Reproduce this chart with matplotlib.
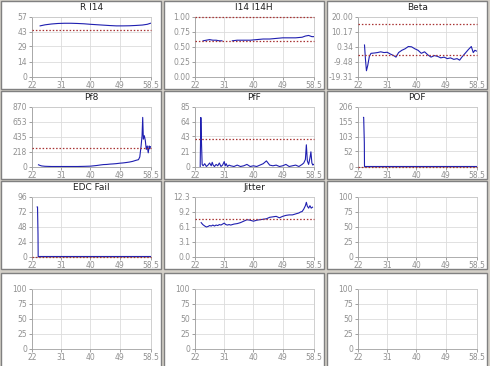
import numpy as np
import matplotlib
matplotlib.use("Agg")
import matplotlib.pyplot as plt
from matplotlib.patches import Rectangle

# ---------------- data ----------------
x_ticks = [22, 31, 40, 49, 58.5]
x_ticklabels = ["22", "31", "40", "49", "58.5"]

titles = ["R I14", "I14 I14H", "Beta", "Pf8", "PfF", "POF", "EDC Fail", "Jitter", "", "", "", ""]

yticks_ri14 = [0, 14, 29, 43, 57]
ri14_x = [24.5, 26, 28, 30, 32, 34, 36, 38, 40, 42, 44, 46, 48, 50, 52, 54, 56, 57.5, 58.5]
ri14_y = [48.5, 49.5, 50.3, 50.8, 51.0, 51.0, 50.8, 50.5, 50.0, 49.6, 49.2, 48.8, 48.5, 48.5, 48.6, 48.9, 49.3, 50.0, 51.0]
ri14_limits = [45]

yticks_i14 = [0.00, 0.25, 0.50, 0.75, 1.00]
i14_x = [24.5, 25.5, 26.5, 27.5, 28.5, 29.5, 30.3, np.nan, 33.5, 35, 37, 39, 41, 43, 45, 47, 49, 51, 53, 55, 56, 57, 58, 58.5]
i14_y = [0.60, 0.61, 0.62, 0.61, 0.61, 0.60, 0.60, np.nan, 0.60, 0.61, 0.61, 0.61, 0.62, 0.63, 0.63, 0.64, 0.65, 0.65, 0.65, 0.66, 0.68, 0.69, 0.67, 0.67]
i14_limits = [1.0, 0.6]

yticks_beta = [-19.31, -9.48, 0.34, 10.17, 20.00]
beta_x = [24.0, 24.3, 24.6, 25.0, 25.5, 26.0, 27, 28, 29, 30, 31, 32, 33, 33.7, 34.5, 35.5, 36.5, 37.5, 38.5, 39.5,
          40.5, 41.5, 42.5, 43.5, 44.5, 45.5, 46.5, 47.5, 48.5, 49.5, 50.5, 51.5, 52.5, 53.3, 54, 55, 56, 56.9, 57.5, 58, 58.5]
beta_y = [1.5, -8, -15.5, -12, -6, -4, -3.8, -3.5, -3.0, -3.5, -3.3, -4.5, -5.5, -6.5, -3.5, -2, -1, 0.5, 0.3, -1,
          -2, -4, -3, -5, -6.5, -5.5, -6, -7, -6.5, -7.5, -7, -8, -7.5, -8.5, -6.5, -4, -1.5, 0.5, -3.5, -2.0, -2.5]
beta_limits = [15.3, -5.2]

yticks_pf8 = [0, 218, 435, 653, 870]
pf8_x = [24.0, 24.5, 25, 26, 28, 30, 32, 34, 36, 38, 40, 41, 42, 43, 44, 45, 46, 47, 48, 49, 50, 51, 52, 53, 54,
         54.8, 55.2, 55.6, 55.9, 56.1, 56.3, 56.6, 56.9, 57.2, 57.5, 57.8, 58.1, 58.3, 58.5]
pf8_y = [25, 15, 8, 3, 0, 0, 0, 0, 0, 2, 5, 10, 15, 22, 28, 30, 35, 38, 42, 48, 52, 58, 65, 75, 90,
         100, 140, 300, 450, 718, 400, 450, 380, 250, 300, 200, 300, 260, 290]
pf8_limits = [266]

yticks_pff = [0, 21, 43, 64, 85]
pff_x = [23.6, 23.8, 24.0, 24.2, 24.5, 25, 25.5, 26, 26.5, 27, 27.3, 27.6, 28, 28.5, 29, 29.5, 30, 30.5, 31, 31.3,
         31.6, 32, 32.5, 33, 34, 35, 36, 37, 38, 39, 40, 41, 42, 43, 43.5, 44, 44.5, 45, 46, 47, 48, 49, 50, 51,
         52, 53, 54, 55, 55.5, 56, 56.3, 56.6, 57, 57.4, 57.7, 58, 58.3, 58.5]
pff_y = [0, 70, 34, 3, 1, 4, 0, 2, 5, 1, 6, 2, 0, 3, 1, 5, 0, 2, 7, 1,
         4, 0, 2, 1, 0, 2, 0, 1, 3, 0, 1, 0, 2, 4, 6, 8, 5, 2, 1, 2, 0, 1, 3, 0,
         1, 2, 0, 3, 5, 10, 31, 8, 3, 12, 21, 5, 2, 3]
pff_limits = [39]

yticks_pof = [0, 52, 103, 155, 206]
pof_x = [23.7, 23.75, 23.95, 24.0, 58.5]
pof_y = [170, 170, 82, 0, 0]
pof_limits = [0]

yticks_edc = [0, 24, 48, 72, 96]
edc_x = [23.6, 23.7, 23.85, 23.9, 58.5]
edc_y = [80, 80, 36, 0, 0]
edc_limits = [0]

yticks_jit = [0.0, 3.1, 6.1, 9.2, 12.3]
jit_ticklabels = ["0.0", "3.1", "6.1", "9.2", "12.3"]
jit_x = [23.9, 24.4, 25.0, 25.5, 26, 26.5, 27, 27.5, 28, 28.5, 29, 29.5, 30, 30.5, 31, 31.5, 32, 32.5, 33, 34,
         35, 36, 37, 38, 39, 40, 41, 42, 43, 44, 45, 46, 47, 48, 49, 50, 51, 52, 53, 54,
         54.5, 55, 55.5, 56, 56.3, 56.6, 57, 57.4, 57.8, 58.2]
jit_y = [7.0, 6.6, 6.3, 6.1, 6.2, 6.4, 6.3, 6.5, 6.3, 6.5, 6.4, 6.6, 6.5, 6.7, 6.9, 6.6, 6.5, 6.6, 6.5, 6.7,
         6.8, 7.0, 7.3, 7.6, 7.5, 7.3, 7.5, 7.6, 7.7, 7.8, 8.1, 8.2, 8.3, 8.0, 8.3, 8.5, 8.6, 8.6, 8.8, 9.0,
         9.2, 9.3, 9.8, 10.5, 11.2, 10.4, 10.0, 10.5, 10.0, 10.2]
jit_limits = [7.8]

yticks_empty = [0, 25, 50, 75, 100]

panels = [
    (ri14_x, ri14_y, ri14_limits, yticks_ri14, ["0", "14", "29", "43", "57"]),
    (i14_x, i14_y, i14_limits, yticks_i14, ["0.00", "0.25", "0.50", "0.75", "1.00"]),
    (beta_x, beta_y, beta_limits, yticks_beta, ["-19.31", "-9.48", "0.34", "10.17", "20.00"]),
    (pf8_x, pf8_y, pf8_limits, yticks_pf8, ["0", "218", "435", "653", "870"]),
    (pff_x, pff_y, pff_limits, yticks_pff, ["0", "21", "43", "64", "85"]),
    (pof_x, pof_y, pof_limits, yticks_pof, ["0", "52", "103", "155", "206"]),
    (edc_x, edc_y, edc_limits, yticks_edc, ["0", "24", "48", "72", "96"]),
    (jit_x, jit_y, jit_limits, yticks_jit, jit_ticklabels),
    (None, None, [], yticks_empty, ["0", "25", "50", "75", "100"]),
    (None, None, [], yticks_empty, ["0", "25", "50", "75", "100"]),
    (None, None, [], yticks_empty, ["0", "25", "50", "75", "100"]),
    (None, None, [], yticks_empty, ["0", "25", "50", "75", "100"]),
]

# ---------------- layout ----------------
W, H = 490, 366
fig = plt.figure(figsize=(W / 100, H / 100), dpi=100)
fig.patch.set_facecolor("#d4d0c8")

col_left = [0, 163, 326]
row_top = [0, 90, 180, 272]
panel_w = 160
panel_h = [88, 88, 88, 94]

def fx(px):
    return px / W

def fy(py):
    return 1 - py / H

for r in range(4):
    for c in range(3):
        x0 = col_left[c] + 1
        y0 = row_top[r] + 1
        rect = Rectangle((fx(x0), fy(y0 + panel_h[r])), panel_w / W, panel_h[r] / H,
                         transform=fig.transFigure, facecolor="white", edgecolor="#808080",
                         linewidth=1.0, zorder=-5)
        fig.patches.append(rect)

for i, (xs, ys, lims, yt, ytl) in enumerate(panels):
    r, c = divmod(i, 3)
    left = col_left[c] + 32
    top = row_top[r] + 17
    aw, ah = 118.5, 59.5
    ax = fig.add_axes([fx(left), fy(top + ah), aw / W, ah / H])
    ax.set_zorder(2)
    ax.set_facecolor("white")
    ax.set_xlim(22, 58.5)
    ax.set_ylim(yt[0], yt[-1])
    ax.set_xticks(x_ticks)
    ax.set_xticklabels(x_ticklabels)
    ax.set_yticks(yt)
    ax.set_yticklabels(ytl)
    ax.tick_params(labelsize=5.5, colors="#909090", length=2, width=0.6, pad=1.5)
    ax.grid(True, color="#dcdcdc", linewidth=0.6)
    ax.set_axisbelow(True)
    for s in ax.spines.values():
        s.set_color("#c8c8c8")
        s.set_linewidth(0.6)
    for sp in ("left", "bottom"):
        ax.spines[sp].set_color("#a0a0a0")
    if xs is not None:
        ax.plot(xs, ys, color="#1f1fb0", linewidth=0.8, zorder=4, clip_on=True)
    for lim in lims:
        ax.axhline(lim, color="#a83232", linewidth=0.9, linestyle=(0, (1.2, 1.5)),
                   zorder=6, clip_on=False)
    if titles[i]:
        fig.text(fx(left + aw / 2), fy(row_top[r] + 7), titles[i], ha="center", va="center",
                 fontsize=6.5, color="#202020", zorder=3)

fig.savefig("out.png", dpi=100, facecolor=fig.get_facecolor())
